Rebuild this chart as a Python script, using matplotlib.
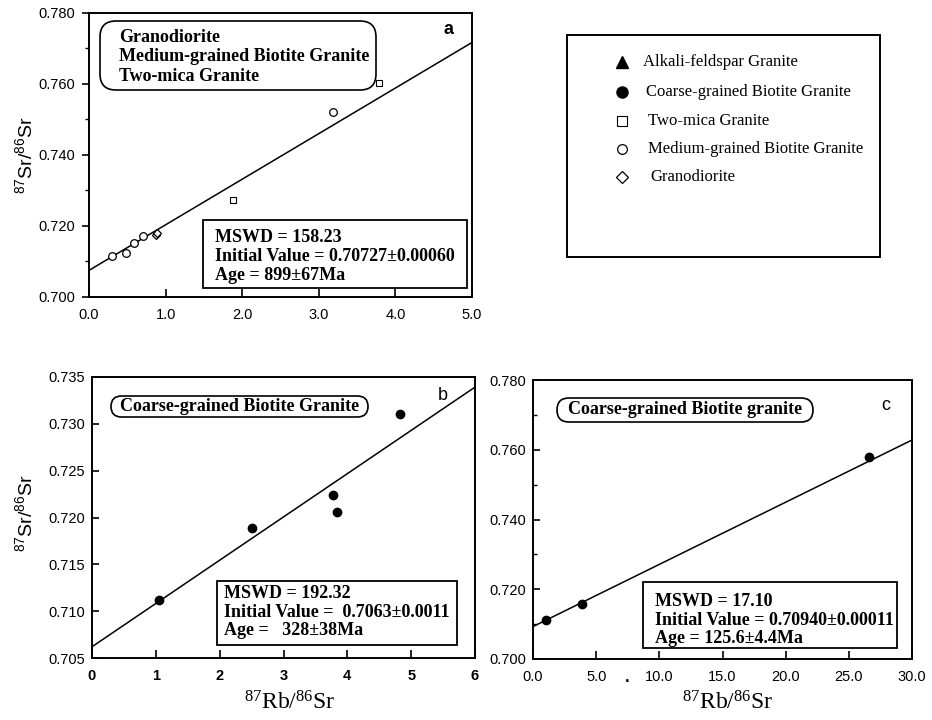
import numpy as np
import matplotlib.pyplot as plt
from matplotlib.patches import FancyBboxPatch, Rectangle
from matplotlib.ticker import MultipleLocator, FormatStrFormatter

W, H = 932, 720

# panel a: granodiorite, medium-grained biotite granite, two-mica granite
a_circle_x = [0.30, 0.48, 0.59, 0.70, 3.19]
a_circle_y = [0.7116, 0.7123, 0.7151, 0.7172, 0.7522]
a_diamond_x = [0.87, 0.89]
a_diamond_y = [0.7175, 0.7179]
a_square_x = [1.88, 3.79]
a_square_y = [0.7273, 0.7603]
a_fit = (0.7075, 0.01284)   # intercept, slope of isochron

# panel b: coarse-grained biotite granite
b_x = [1.05, 2.51, 3.77, 3.84, 4.82]
b_y = [0.7112, 0.7189, 0.7224, 0.7206, 0.7311]
b_fit = (0.7062, 0.00462)

# panel c: coarse-grained biotite granite
c_x = [1.03, 3.87, 26.6]
c_y = [0.7111, 0.7159, 0.7578]
c_fit = (0.7093, 0.001783)

stats_a = ['MSWD = 158.23', 'Initial Value = 0.70727\u00b10.00060', 'Age = 899\u00b167Ma']
stats_b = ['MSWD = 192.32', 'Initial Value =  0.7063\u00b10.0011', 'Age =   328\u00b138Ma']
stats_c = ['MSWD = 17.10', 'Initial Value = 0.70940\u00b10.00011', 'Age = 125.6\u00b14.4Ma']

legend_labels = ['Alkali-feldspar Granite', 'Coarse-grained Biotite Granite',
                 'Two-mica Granite', 'Medium-grained Biotite Granite', 'Granodiorite']

plt.rcParams['font.family'] = 'Liberation Sans'
plt.rcParams['axes.linewidth'] = 1.4


def px_rect(l, t, r, b):
    return [l / W, 1 - b / H, (r - l) / W, (b - t) / H]


def style_axis(ax, xlim, ylim, xmaj, ymaj, xfmt, yfmt, ydir, yminor=None, xbold=False):
    ax.set_xlim(*xlim)
    ax.set_ylim(*ylim)
    ax.xaxis.set_major_locator(MultipleLocator(xmaj))
    ax.yaxis.set_major_locator(MultipleLocator(ymaj))
    ax.xaxis.set_major_formatter(FormatStrFormatter(xfmt))
    ax.yaxis.set_major_formatter(FormatStrFormatter(yfmt))
    if yminor:
        ax.yaxis.set_minor_locator(MultipleLocator(yminor))
    ax.tick_params(axis='x', direction='in', length=6, width=1.2, pad=8, labelsize=10.5)
    ax.tick_params(axis='y', direction=ydir, length=5, width=1.2, pad=5, labelsize=10.5)
    ax.tick_params(axis='y', which='minor', direction=ydir, length=3, width=1.0)
    if xbold:
        for t in ax.get_xticklabels():
            t.set_fontweight('bold')


fig = plt.figure(figsize=(W / 100, H / 100), dpi=100)

# --- panel a
ax_a = fig.add_axes(px_rect(89, 13, 472, 297))
xs = np.array([0, 5])
ax_a.plot(xs, a_fit[0] + a_fit[1] * xs, color='black', lw=1.1)
ax_a.plot(a_circle_x, a_circle_y, 'o', ms=5.5, mfc='white', mec='black', mew=0.9)
ax_a.plot(a_diamond_x, a_diamond_y, 'D', ms=4.5, mfc='white', mec='black', mew=0.9)
ax_a.plot(a_square_x, a_square_y, 's', ms=5, mfc='white', mec='black', mew=0.8)
style_axis(ax_a, (0, 5), (0.700, 0.780), 1.0, 0.020, '%.1f', '%.3f', 'out', yminor=0.010)

# --- panel b
ax_b = fig.add_axes(px_rect(92, 377, 475, 658))
xs = np.array([0, 6])
ax_b.plot(xs, b_fit[0] + b_fit[1] * xs, color='black', lw=1.1)
ax_b.plot(b_x, b_y, 'o', ms=6, color='black')
style_axis(ax_b, (0, 6), (0.705, 0.735), 1, 0.005, '%d', '%.3f', 'in', xbold=True)

# --- panel c
ax_c = fig.add_axes(px_rect(533, 380, 912, 659))
xs = np.array([0, 30])
ax_c.plot(xs, c_fit[0] + c_fit[1] * xs, color='black', lw=1.1)
ax_c.plot(c_x, c_y, 'o', ms=6, color='black')
style_axis(ax_c, (0, 30), (0.700, 0.780), 5.0, 0.020, '%.1f', '%.3f', 'in', yminor=0.010)

# --- overlay in pixel coordinates for boxes, labels and legend
ov = fig.add_axes([0, 0, 1, 1], zorder=5)
ov.set_xlim(0, W)
ov.set_ylim(H, 0)
ov.axis('off')
ov.patch.set_visible(False)

serif_b = dict(family='Liberation Serif', weight='bold', fontsize=13)


def rbox(l, t, r, b, rad):
    ov.add_patch(FancyBboxPatch((l, t), r - l, b - t,
                                boxstyle=f'round,pad=0,rounding_size={rad}',
                                fc='white', ec='black', lw=1.2))


def stat_box(l, t, r, b, lines, tx, ty, dy):
    ov.add_patch(Rectangle((l, t), r - l, b - t, fc='white', ec='black', lw=1.3))
    for i, s in enumerate(lines):
        ov.text(tx, ty + i * dy, s, ha='left', va='center', **serif_b)


# panel a labels
rbox(100, 21, 376, 90, 16)
for i, s in enumerate(['Granodiorite', 'Medium-grained Biotite Granite', 'Two-mica Granite']):
    ov.text(119, 37 + i * 19.7, s, ha='left', va='center', **serif_b)
stat_box(203, 220, 467, 288, stats_a, 215, 237, 19.3)
ov.text(449, 30, 'a', ha='center', va='center', fontsize=13, fontweight='bold')

# panel b labels
rbox(111, 396, 368, 417, 10.5)
ov.text(239.5, 406.5, 'Coarse-grained Biotite Granite', ha='center', va='center', **serif_b)
stat_box(217, 581, 457, 645, stats_b, 224, 594, 18.4)
ov.text(443, 396, 'b', ha='center', va='center', fontsize=13)

# panel c labels
rbox(557, 398, 813, 422, 12)
ov.text(685, 410, 'Coarse-grained Biotite granite', ha='center', va='center', **serif_b)
stat_box(643, 582, 897, 648, stats_c, 655, 602, 18.3)
ov.text(886, 405, 'c', ha='center', va='center', fontsize=13)
ov.text(627, 677, '.', ha='center', va='center', fontsize=12, fontweight='bold')

# axis titles
ylab = r'$\mathregular{^{87}Sr/^{86}Sr}$'
xlab = r'$\mathregular{^{87}Rb/^{86}Sr}$'
ov.text(25, 155, ylab, rotation=90, ha='center', va='center', fontsize=14)
ov.text(25, 513, ylab, rotation=90, ha='center', va='center', fontsize=14)
ov.text(290, 703, xlab, ha='center', va='center', fontsize=17, family='Liberation Serif')
ov.text(728, 703, xlab, ha='center', va='center', fontsize=17, family='Liberation Serif')

# legend box
ov.add_patch(Rectangle((567, 35), 880 - 567, 257 - 35, fc='white', ec='black', lw=1.4))
leg_y = [62, 92, 121, 149, 177]
ov.plot(622, leg_y[0], '^', ms=8, color='black')
ov.plot(622, leg_y[1], 'o', ms=8, color='black')
ov.plot(622, leg_y[2], 's', ms=6.5, mfc='white', mec='black', mew=0.8)
ov.plot(622, leg_y[3], 'o', ms=7, mfc='white', mec='black', mew=0.9)
ov.plot(622, leg_y[4], 'D', ms=6, mfc='white', mec='black', mew=0.9)
leg_tx = [643, 646, 648, 648, 650]
for x, y, s in zip(leg_tx, leg_y, legend_labels):
    ov.text(x, y, s, ha='left', va='center', fontsize=12, family='Liberation Serif')

fig.savefig('out.png', dpi=100)
